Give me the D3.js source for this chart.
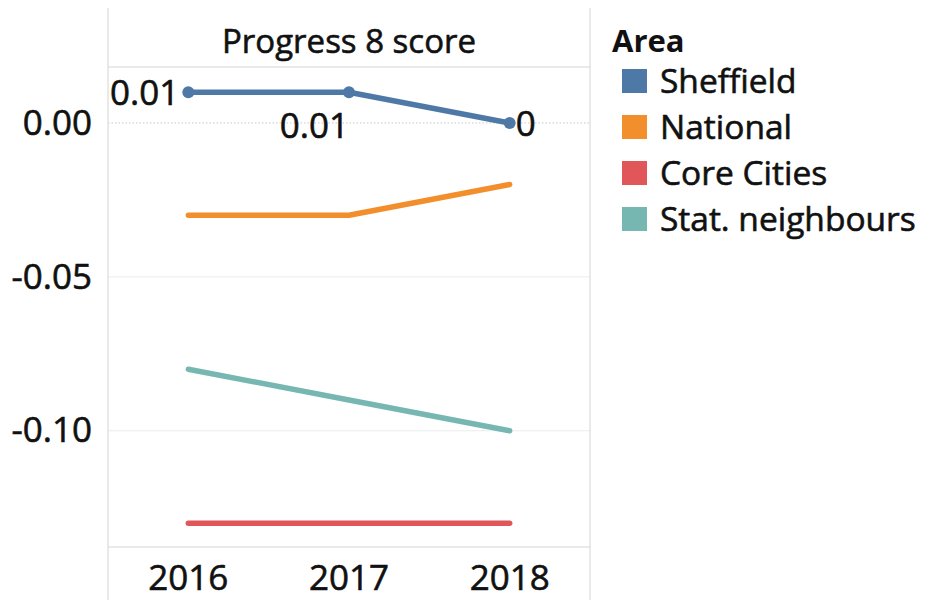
<!DOCTYPE html>
<html><head><meta charset="utf-8">
<script src="https://cdn.jsdelivr.net/npm/d3@7"></script>
<style>body{margin:0;background:#fff;} text{font-family:"Open Sans","Noto Sans",sans-serif;}</style>
</head><body><svg id="c" width="930" height="600"></svg>
<script>
const years = ["2016","2017","2018"];
const areas = ["Sheffield","National","Core Cities","Stat. neighbours"];
const sheffield = [0.01, 0.01, 0.00];
const national = [-0.03, -0.03, -0.02];
const coreCities = [-0.13, -0.13, -0.13];
const statNeighbours = [-0.08, -0.09, -0.10];
const sheffieldLabels = ["0.01","0.01","0"];
const yTicks = [0.00, -0.05, -0.10];
const colors = ["#4e79a7","#f28e2b","#e15759","#76b7b2"];
const title = "Progress 8 score";
const legendTitle = "Area";

const seriesVals = [sheffield, national, coreCities, statNeighbours];
const svg = d3.select("#c");
const L = 108, R = 590, T = 67, B = 547;
const x = d3.scaleBand().domain(years).range([L, R]);
const y = d3.scaleLinear().domain([-0.13775, 0.01818]).range([B, T]);
const FS = 33, NFS = 35, TXT = "#111", SW = 0.6;

// grid
svg.selectAll(".g").data(yTicks).join("line")
  .attr("x1", L).attr("x2", R).attr("y1", d=>y(d)).attr("y2", d=>y(d))
  .attr("stroke", d=> d===0 ? "#c8c8c8" : "#ececec")
  .attr("stroke-width", 1)
  .attr("stroke-dasharray", d=> d===0 ? "1.5,2" : null);

// borders
svg.append("line").attr("x1",L).attr("x2",L).attr("y1",8).attr("y2",600).attr("stroke","#d4d4d4");
svg.append("line").attr("x1",R).attr("x2",R).attr("y1",8).attr("y2",600).attr("stroke","#d4d4d4");
svg.append("line").attr("x1",L).attr("x2",R).attr("y1",T).attr("y2",T).attr("stroke","#d4d4d4");
svg.append("line").attr("x1",L).attr("x2",R).attr("y1",B).attr("y2",B).attr("stroke","#d4d4d4");

function sty(sel, fs){ return sel.attr("font-size",fs).attr("fill",TXT).attr("stroke",TXT).attr("stroke-width",SW)
  .attr("font-family","'Open Sans',sans-serif"); }

// header
sty(svg.append("text").attr("x",(L+R)/2).attr("y",41).attr("dy","0.36em").attr("text-anchor","middle"), FS).text(title);

// y axis
const yAxis = d3.axisLeft(y).tickValues(yTicks).tickFormat(d3.format(".2f")).tickSize(0).tickPadding(16);
const ya = svg.append("g").attr("transform",`translate(${L},0)`).call(yAxis);
ya.select(".domain").remove();
sty(ya.selectAll("text"), NFS).text(d => d3.format(".2f")(d).replace("−","-"));

// x axis
const xAxis = d3.axisBottom(x).tickSize(0).tickPadding(18);
const xa = svg.append("g").attr("transform",`translate(0,${B})`).call(xAxis);
xa.select(".domain").remove();
sty(xa.selectAll("text"), NFS);

// lines
const line = d3.line().x((d,i)=>x(years[i])+x.bandwidth()/2).y(d=>y(d));
const order = [3,2,1,0];
order.forEach(k=>{
  svg.append("path").datum(seriesVals[k]).attr("d",line)
    .attr("fill","none").attr("stroke",colors[k]).attr("stroke-width",5.5)
    .attr("stroke-linecap","round").attr("stroke-linejoin","round");
});
// Sheffield points
svg.selectAll(".pt").data(sheffield).join("circle")
  .attr("cx",(d,i)=>x(years[i])+x.bandwidth()/2).attr("cy",d=>y(d)).attr("r",6).attr("fill",colors[0]);
// labels
const lblPos = [{dx:-9,dy:0,a:"end"},{dx:0,dy:33,a:"end"},{dx:6,dy:0,a:"start"}];
sty(svg.selectAll(".lb").data(sheffield).join("text")
  .attr("x",(d,i)=>x(years[i])+x.bandwidth()/2+lblPos[i].dx)
  .attr("y",(d,i)=>y(d)+lblPos[i].dy)
  .attr("dy","0.36em")
  .attr("text-anchor",(d,i)=>lblPos[i].a), NFS).text((d,i)=>sheffieldLabels[i]);

// legend
svg.append("text").attr("x",612).attr("y",41).attr("dy","0.36em").attr("font-size",31).attr("font-weight","bold").attr("fill",TXT).text(legendTitle);
const lg = svg.selectAll(".lg").data(areas).join("g").attr("transform",(d,i)=>`translate(622,${81+i*46})`);
lg.append("rect").attr("x",0).attr("y",-12).attr("width",25).attr("height",24).attr("fill",(d,i)=>colors[i]);
sty(lg.append("text").attr("x",38).attr("y",0).attr("dy","0.36em"), 33.5).text(d=>d);
</script></body></html>
